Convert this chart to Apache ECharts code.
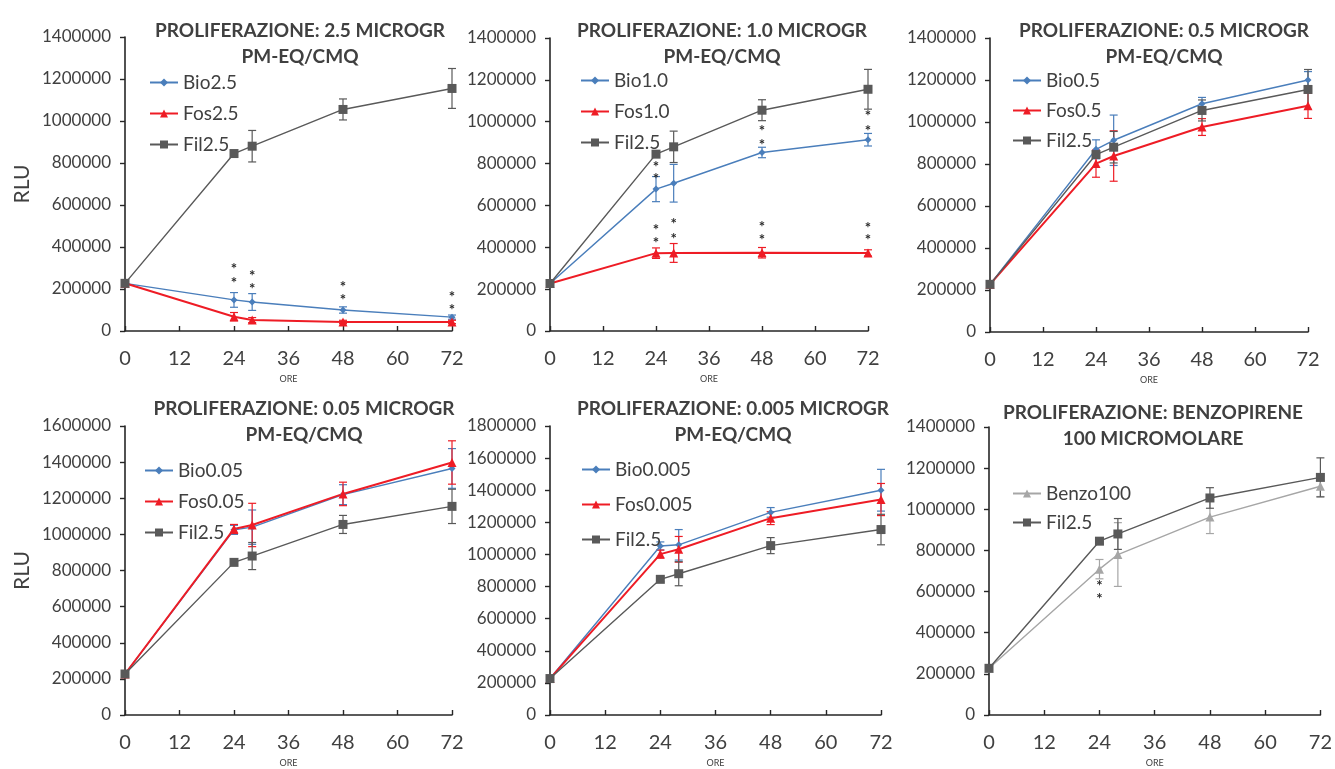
<!DOCTYPE html>
<html>
<head>
<meta charset="utf-8">
<title>Proliferazione</title>
<script src="https://cdn.jsdelivr.net/npm/echarts@6/dist/echarts.min.js"></script>
<style>
  html, body { margin: 0; padding: 0; background: #ffffff; }
  #chart { width: 1335px; height: 769px; }
</style>
</head>
<body>
<div id="chart"></div>
<script>
// Sampling times (hours)
const hours = [0, 24, 28, 48, 72];
const xTicks = [0, 12, 24, 36, 48, 60, 72];

// Control: Fil2.5 (shown in every panel)
const filValues = [227000, 845000, 880000, 1055000, 1155000];
const filErr    = [6000, 15000, 75000, 50000, 95000];

// 2.5 microgr
const bio25    = [227000, 148000, 138000, 100000, 66000];
const bio25Err = [0, 35000, 40000, 15000, 10000];
const fos25    = [227000, 68000, 52000, 43000, 43000];
const fos25Err = [0, 20000, 12000, 8000, 8000];

// 1.0 microgr
const bio10    = [227000, 678000, 706000, 853000, 914000];
const bio10Err = [0, 60000, 90000, 25000, 30000];
const fos10    = [227000, 372000, 373000, 374000, 373000];
const fos10Err = [0, 25000, 45000, 25000, 15000];

// 0.5 microgr
const bio05    = [227000, 870000, 913000, 1087000, 1200000];
const bio05Err = [0, 45000, 120000, 30000, 40000];
const fos05    = [227000, 802000, 838000, 976000, 1077000];
const fos05Err = [0, 65000, 120000, 40000, 60000];

// 0.05 microgr
const bio005    = [227000, 1025000, 1040000, 1220000, 1365000];
const bio005Err = [0, 25000, 95000, 55000, 110000];
const fos005    = [227000, 1030000, 1052000, 1224000, 1398000];
const fos005Err = [0, 25000, 120000, 65000, 120000];

// 0.005 microgr
const bio0005    = [227000, 1053000, 1060000, 1262000, 1400000];
const bio0005Err = [0, 25000, 95000, 30000, 130000];
const fos0005    = [227000, 1002000, 1032000, 1226000, 1342000];
const fos0005Err = [0, 25000, 80000, 40000, 100000];

// Benzopirene 100 micromolare
const benzo100    = [227000, 709000, 780000, 962000, 1112000];
const benzo100Err = [0, 47000, 155000, 80000, 50000];

// Significance marks [hour, RLU]
const starsP1 = [[24, 314000], [24, 246000], [28, 282000], [28, 219000],
                 [48, 227000], [48, 167000], [72, 179000], [72, 119000]];
const starsP2 = [[24, 800000], [24, 745000], [48, 976000], [48, 909000],
                 [72, 1045000], [72, 976000],
                 [24, 500000], [24, 441000], [28, 528000], [28, 457000],
                 [48, 516000], [48, 452000], [72, 510000], [72, 452000]];
const starsP6 = [[24, 645000], [24, 582000]];

// Titles and y-axis maxima
const titles = [
  'PROLIFERAZIONE: 2.5 MICROGR\nPM-EQ/CMQ',
  'PROLIFERAZIONE: 1.0 MICROGR\nPM-EQ/CMQ',
  'PROLIFERAZIONE: 0.5 MICROGR\nPM-EQ/CMQ',
  'PROLIFERAZIONE: 0.05 MICROGR\nPM-EQ/CMQ',
  'PROLIFERAZIONE: 0.005 MICROGR\nPM-EQ/CMQ',
  'PROLIFERAZIONE: BENZOPIRENE\n100 MICROMOLARE'
];
const yMax = [1400000, 1400000, 1400000, 1600000, 1800000, 1400000];

const FONT = 'Lato';
const C_BIO = '#4a7ebb';
const C_FOS = '#ee1c25';
const C_FIL = '#595959';
const C_BENZO = '#a6a6a6';
const C_AXIS = '#262626';
const C_TEXT = '#404040';

// Plot-area layout for each panel
const panels = [
  { left: 125, top: 37,  width: 327, height: 294, titleX: 295,  titleY: 13,  legL: 149,  legT: 73,  gap: 12, rlu: true },
  { left: 550, top: 38,  width: 318, height: 293, titleX: 717,  titleY: 13,  legL: 580,  legT: 71,  gap: 12, rlu: false },
  { left: 990, top: 38,  width: 318, height: 294, titleX: 1159, titleY: 13,  legL: 1012, legT: 71,  gap: 11, rlu: false },
  { left: 125, top: 426, width: 327, height: 294, titleX: 299,  titleY: 391, legL: 144,  legT: 461, gap: 12, rlu: true },
  { left: 550, top: 426, width: 331, height: 295, titleX: 728,  titleY: 391, legL: 581,  legT: 460, gap: 16, rlu: false },
  { left: 989, top: 427, width: 333, height: 293, titleX: 1148, titleY: 395, legL: 1012, legT: 484, gap: 10, rlu: false }
];

// Series definitions per panel
const panelSeries = [
  [
    { name: 'Bio2.5', values: bio25, err: bio25Err, color: C_BIO, symbol: 'diamond', size: 7, width: 1.4 },
    { name: 'Fos2.5', values: fos25, err: fos25Err, color: C_FOS, symbol: 'triangle', size: 9, width: 2 },
    { name: 'Fil2.5', values: filValues, err: filErr, color: C_FIL, symbol: 'rect', size: 9, width: 1.4 }
  ],
  [
    { name: 'Bio1.0', values: bio10, err: bio10Err, color: C_BIO, symbol: 'diamond', size: 7, width: 1.4 },
    { name: 'Fos1.0', values: fos10, err: fos10Err, color: C_FOS, symbol: 'triangle', size: 9, width: 2 },
    { name: 'Fil2.5', values: filValues, err: filErr, color: C_FIL, symbol: 'rect', size: 9, width: 1.4 }
  ],
  [
    { name: 'Bio0.5', values: bio05, err: bio05Err, color: C_BIO, symbol: 'diamond', size: 7, width: 1.4 },
    { name: 'Fos0.5', values: fos05, err: fos05Err, color: C_FOS, symbol: 'triangle', size: 9, width: 2 },
    { name: 'Fil2.5', values: filValues, err: filErr, color: C_FIL, symbol: 'rect', size: 9, width: 1.4 }
  ],
  [
    { name: 'Bio0.05', values: bio005, err: bio005Err, color: C_BIO, symbol: 'diamond', size: 7, width: 1.4 },
    { name: 'Fos0.05', values: fos005, err: fos005Err, color: C_FOS, symbol: 'triangle', size: 9, width: 2 },
    { name: 'Fil2.5', values: filValues, err: filErr, color: C_FIL, symbol: 'rect', size: 9, width: 1.4 }
  ],
  [
    { name: 'Bio0.005', values: bio0005, err: bio0005Err, color: C_BIO, symbol: 'diamond', size: 7, width: 1.4 },
    { name: 'Fos0.005', values: fos0005, err: fos0005Err, color: C_FOS, symbol: 'triangle', size: 9, width: 2 },
    { name: 'Fil2.5', values: filValues, err: filErr, color: C_FIL, symbol: 'rect', size: 9, width: 1.4 }
  ],
  [
    { name: 'Benzo100', values: benzo100, err: benzo100Err, color: C_BENZO, symbol: 'triangle', size: 9, width: 1.4 },
    { name: 'Fil2.5', values: filValues, err: filErr, color: C_FIL, symbol: 'rect', size: 9, width: 1.4 }
  ]
];
const panelStars = [starsP1, starsP2, null, null, null, starsP6];

function errorBarRenderer(color) {
  return function (params, api) {
    const x = api.value(0);
    const lo = api.coord([x, api.value(1)]);
    const hi = api.coord([x, api.value(2)]);
    const cap = 4;
    const style = { stroke: color, lineWidth: 1.2 };
    return {
      type: 'group',
      children: [
        { type: 'line', shape: { x1: lo[0], y1: lo[1], x2: hi[0], y2: hi[1] }, style: style },
        { type: 'line', shape: { x1: lo[0] - cap, y1: lo[1], x2: lo[0] + cap, y2: lo[1] }, style: style },
        { type: 'line', shape: { x1: hi[0] - cap, y1: hi[1], x2: hi[0] + cap, y2: hi[1] }, style: style }
      ]
    };
  };
}

function starRenderer(params, api) {
  const p = api.coord([api.value(0), api.value(1)]);
  return {
    type: 'text',
    x: p[0], y: p[1] + 4,
    style: { text: '*', font: 'bold 15px ' + FONT, fill: '#2b2b2b', align: 'center', verticalAlign: 'middle' }
  };
}

const grid = [], xAxis = [], yAxis = [], title = [], legend = [], series = [];

panels.forEach(function (p, i) {
  grid.push({ left: p.left, top: p.top, width: p.width, height: p.height, containLabel: false });
  xAxis.push({
    gridIndex: i, type: 'value', min: 0, max: 72, interval: 12,
    name: 'ORE', nameLocation: 'middle', nameGap: 44,
    nameTextStyle: { fontFamily: FONT, fontSize: 9, color: C_TEXT },
    axisLine: { lineStyle: { color: C_AXIS, width: 1.6 } },
    axisTick: { inside: true, length: 5, lineStyle: { color: C_AXIS, width: 1.4 } },
    axisLabel: { fontFamily: FONT, fontSize: 20, color: C_TEXT, margin: 18,
                 customValues: xTicks },
    splitLine: { show: false }
  });
  yAxis.push({
    gridIndex: i, type: 'value', min: 0, max: yMax[i], interval: 200000,
    name: p.rlu ? 'RLU' : '', nameLocation: 'middle', nameGap: 92, nameRotate: 90,
    nameTextStyle: { fontFamily: FONT, fontSize: 21, color: C_TEXT },
    axisLine: { show: true, lineStyle: { color: C_AXIS, width: 1.6 } },
    axisTick: { show: true, inside: false, length: 5, lineStyle: { color: C_AXIS, width: 1.4 } },
    axisLabel: { fontFamily: FONT, fontSize: 17, color: C_TEXT, margin: 14,
                 formatter: function (v) { return String(v); } },
    splitLine: { show: false }
  });
  title.push({
    text: titles[i], left: p.titleX, top: p.titleY, textAlign: 'center',
    textStyle: { fontFamily: FONT, fontWeight: 'bold', fontSize: 19, lineHeight: 26, color: C_TEXT }
  });

  const defs = panelSeries[i];
  legend.push({
    left: p.legL, top: p.legT, orient: 'vertical', padding: 0,
    itemWidth: 28, itemHeight: 10, itemGap: p.gap,
    data: defs.map(function (d) { return d.name; }),
    textStyle: { fontFamily: FONT, fontSize: 19, color: C_TEXT, lineHeight: 19 },
    selectedMode: false
  });

  defs.forEach(function (d) {
    series.push({
      type: 'line', name: d.name, xAxisIndex: i, yAxisIndex: i,
      data: hours.map(function (h, k) { return [h, d.values[k]]; }),
      symbol: d.symbol, symbolSize: d.size, showAllSymbol: true,
      lineStyle: { color: d.color, width: d.width },
      itemStyle: { color: d.color },
      animation: false, z: 3
    });
    const errData = [];
    hours.forEach(function (h, k) {
      if (d.err[k] > 0) errData.push([h, d.values[k] - d.err[k], d.values[k] + d.err[k]]);
    });
    series.push({
      type: 'custom', name: d.name + ' err', xAxisIndex: i, yAxisIndex: i,
      renderItem: errorBarRenderer(d.color), data: errData,
      encode: { x: 0, y: [1, 2] }, animation: false, z: 2, silent: true
    });
  });

  if (panelStars[i]) {
    series.push({
      type: 'custom', name: 'sig' + i, xAxisIndex: i, yAxisIndex: i,
      renderItem: starRenderer, data: panelStars[i],
      encode: { x: 0, y: 1 }, animation: false, z: 4, silent: true
    });
  }
});

const chart = echarts.init(document.getElementById('chart'), null, { renderer: 'canvas' });
chart.setOption({
  backgroundColor: '#ffffff',
  animation: false,
  textStyle: { fontFamily: FONT },
  grid: grid, xAxis: xAxis, yAxis: yAxis,
  title: title, legend: legend, series: series
});
</script>
</body>
</html>
